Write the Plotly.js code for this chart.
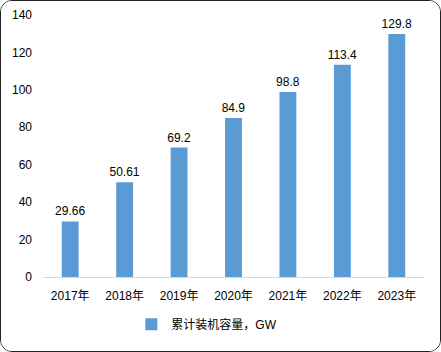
<!DOCTYPE html>
<html><head><meta charset="utf-8">
<script src="https://cdn.plot.ly/plotly-3.0.1.min.js"></script>
<style>
html,body{margin:0;padding:0;background:#fff;}
#wrap{width:439px;height:350px;border:1px solid #222;border-radius:12px;overflow:hidden;}
#chart{width:439px;height:350px;}
</style></head>
<body><div id="wrap"><div id="chart"></div></div>
<script>
const categories = ["2017年","2018年","2019年","2020年","2021年","2022年","2023年"];
const values = [29.66, 50.61, 69.2, 84.9, 98.8, 113.4, 129.8];
const labels = ["29.66","50.61","69.2","84.9","98.8","113.4","129.8"];
const seriesName = "累计装机容量，GW";
const yTicks = [0,20,40,60,80,100,120,140];

const font = '"Liberation Sans", "Noto Sans CJK SC", sans-serif';
Plotly.newPlot('chart', [{
  type:'bar', x:categories, y:values, name:seriesName,
  text:labels, textposition:'outside', cliponaxis:false, constraintext:'none',
  textfont:{family:font,size:12,color:'#000'},
  marker:{color:'#5B9BD5'}, showlegend:true, hoverinfo:'none'
}], {
  width:439, height:350,
  margin:{l:42,r:16,t:14,b:71},
  paper_bgcolor:'#fff', plot_bgcolor:'#fff',
  font:{family:font,size:12,color:'#000'},
  bargap:0.69,
  xaxis:{showline:true,linecolor:'#d9d9d9',linewidth:1,ticks:'',showgrid:false,
    ticklabelstandoff:8,tickfont:{family:font,size:12,color:'#000'}},
  yaxis:{range:[0,140],tickvals:yTicks,showgrid:false,zeroline:false,showline:false,ticks:'',
    ticklabelstandoff:10,tickfont:{family:font,size:12,color:'#000'}},
  showlegend:true,
  legend:{orientation:'h',x:0.43,xanchor:'center',y:-0.18,yanchor:'middle',
    font:{family:font,size:12,color:'#000'},itemwidth:30}
},{staticPlot:true});
</script></body></html>
